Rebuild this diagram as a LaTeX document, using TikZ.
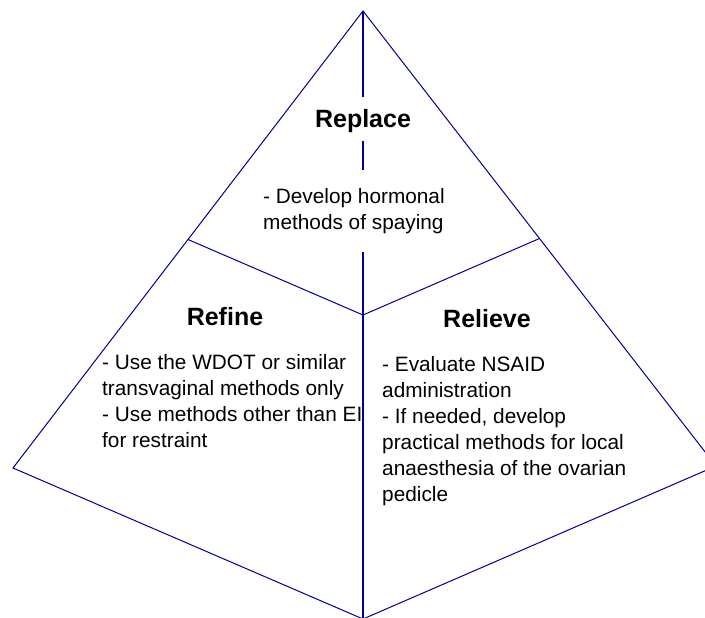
\documentclass[tikz,border=0pt]{standalone}
\usepackage{fontspec}
\setmainfont{Liberation Sans}
\usetikzlibrary{calc}
\definecolor{pyr}{RGB}{0,0,145}
\begin{document}
\begin{tikzpicture}[x=1pt,y=-1pt,
  edge/.style={draw=pyr, line width=1pt},
  spine/.style={draw=pyr, line width=1.8pt},
  head/.style={font={\fontsize{25}{30}\selectfont\bfseries}, inner sep=0pt},
  body/.style={font={\fontsize{20.8}{26}\selectfont}, align=left, inner sep=0pt, anchor=north west},
]
\useasboundingbox (0,0) rectangle (705,618);
\clip (0,0) rectangle (705,618);
\coordinate (A) at (363,11);
\coordinate (L) at (13,468);
\coordinate (B) at (363,619);
\coordinate (R) at (716,466);
\coordinate (mL) at ($(A)!0.5!(L)$);
\coordinate (mB) at ($(A)!0.5!(B)$);
\coordinate (mR) at ($(A)!0.5!(R)$);
\draw[edge] (A) -- (L) -- (B) -- (R) -- cycle;
\draw[spine] (A) -- (B);
\draw[edge] (mL) -- (mB) -- (mR);
\node[head, fill=white, inner xsep=4pt, inner ysep=13pt, text height=18pt, text depth=0pt, anchor=base] (replace) at (363,128) {Replace};
\node[body, fill=white, inner xsep=4pt, inner ysep=18pt] (replacetext) at (259,170) {- Develop hormonal\\methods of spaying};
\node[head, anchor=base] (refine) at (225,325) {Refine};
\node[head, anchor=base] (relieve) at (487,327) {Relieve};
\node[body] (refinetext) at (102,354) {- Use the WDOT or similar\\transvaginal methods only\\- Use methods other than EI\\for restraint};
\node[body] (relievetext) at (382,356) {- Evaluate NSAID\\administration\\- If needed, develop\\practical methods for local\\anaesthesia of the ovarian\\pedicle};
\end{tikzpicture}
\end{document}
